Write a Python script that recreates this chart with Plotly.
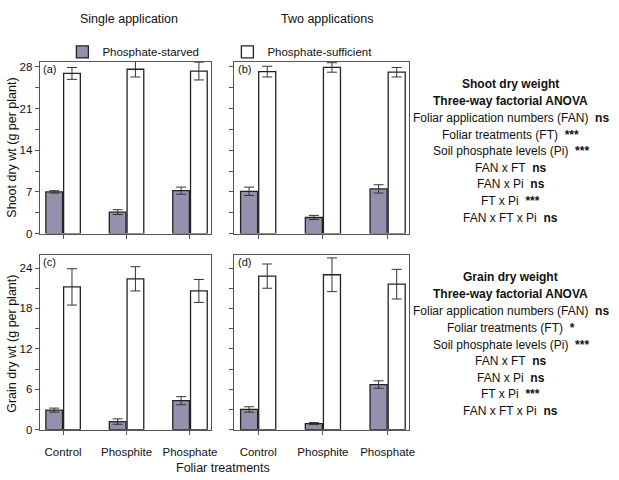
import plotly.graph_objects as go

categories = ["Control", "Phosphite", "Phosphate"]

shoot_single_starved = [7.0, 3.6, 7.2]
shoot_single_starved_err = [0.2, 0.4, 0.6]
shoot_single_suff = [26.9, 27.6, 27.3]
shoot_single_suff_err = [1.0, 1.3, 1.5]

shoot_two_starved = [7.1, 2.7, 7.5]
shoot_two_starved_err = [0.7, 0.35, 0.7]
shoot_two_suff = [27.2, 27.9, 27.1]
shoot_two_suff_err = [0.9, 0.8, 0.8]

grain_single_starved = [2.9, 1.2, 4.3]
grain_single_starved_err = [0.3, 0.4, 0.6]
grain_single_suff = [21.2, 22.4, 20.6]
grain_single_suff_err = [2.7, 1.8, 1.7]

grain_two_starved = [3.0, 0.9, 6.7]
grain_two_starved_err = [0.4, 0.15, 0.55]
grain_two_suff = [22.8, 23.0, 21.6]
grain_two_suff_err = [1.8, 2.5, 2.2]

shoot_ticks = [0, 3.5, 7, 10.5, 14, 17.5, 21, 24.5, 28]
shoot_labels = ["0", "", "7", "", "14", "", "21", "", "28"]
grain_ticks = [0, 3, 6, 9, 12, 15, 18, 21, 24]
grain_labels = ["0", "", "6", "", "12", "", "18", "", "24"]

shoot_stats = [("Foliar application numbers (FAN)", "ns"),
               ("Foliar treatments (FT)", "***"),
               ("Soil phosphate levels (Pi)", "***"),
               ("FAN x FT", "ns"), ("FAN x Pi", "ns"),
               ("FT x Pi", "***"), ("FAN x FT x Pi", "ns")]
grain_stats = [("Foliar application numbers (FAN)", "ns"),
               ("Foliar treatments (FT)", "*"),
               ("Soil phosphate levels (Pi)", "***"),
               ("FAN x FT", "ns"), ("FAN x Pi", "ns"),
               ("FT x Pi", "***"), ("FAN x FT x Pi", "ns")]

FONT = "Liberation Sans, Arial, sans-serif"
STARVED = "#9391ad"
EDGE = "#222222"
FRAME = "#555555"
W, H = 619, 480

fig = go.Figure()

panels = [
    ("x", "y", shoot_single_starved, shoot_single_starved_err, shoot_single_suff, shoot_single_suff_err, True),
    ("x2", "y2", shoot_two_starved, shoot_two_starved_err, shoot_two_suff, shoot_two_suff_err, False),
    ("x3", "y3", grain_single_starved, grain_single_starved_err, grain_single_suff, grain_single_suff_err, False),
    ("x4", "y4", grain_two_starved, grain_two_starved_err, grain_two_suff, grain_two_suff_err, False),
]
for xa, ya, st, ste, su, sue, legend in panels:
    fig.add_trace(go.Bar(x=categories, y=st, name="Phosphate-starved", xaxis=xa, yaxis=ya,
                         marker=dict(color=STARVED, line=dict(color=EDGE, width=1.3)),
                         error_y=dict(type="data", array=ste, color="#333333", thickness=1, width=5),
                         showlegend=legend, offsetgroup="a"))
    fig.add_trace(go.Bar(x=categories, y=su, name="Phosphate-sufficient", xaxis=xa, yaxis=ya,
                         marker=dict(color="white", line=dict(color=EDGE, width=1.3)),
                         error_y=dict(type="data", array=sue, color="#333333", thickness=1, width=5),
                         showlegend=legend, offsetgroup="b"))

def px_x(p):
    return p / W

def px_y(p):
    return 1 - p / H

xcommon = dict(type="category", range=[-0.37, 2.33], showline=True, linecolor=FRAME, linewidth=1,
               mirror=True, ticks="outside", ticklen=4, tickcolor=FRAME,
               tickfont=dict(family=FONT, size=11.5, color="#111"), showgrid=False, zeroline=False,
               ticklabelstandoff=8)
ycommon = dict(showline=True, linecolor=FRAME, linewidth=1, mirror=True, ticks="outside",
               ticklen=4, tickcolor=FRAME, tickfont=dict(family=FONT, size=11.5, color="#111"),
               showgrid=False, zeroline=False, tickmode="array")

dom_left = [px_x(40), px_x(213)]
dom_right = [px_x(236.5), px_x(413)]
dom_top = [px_y(236), px_y(62)]
dom_bot = [px_y(435), px_y(258)]

fig.update_layout(
    xaxis=dict(xcommon, domain=dom_left, anchor="y", showticklabels=False),
    xaxis2=dict(xcommon, domain=dom_right, anchor="y2", showticklabels=False),
    xaxis3=dict(xcommon, domain=dom_left, anchor="y3"),
    xaxis4=dict(xcommon, domain=dom_right, anchor="y4"),
    yaxis=dict(ycommon, domain=dom_top, anchor="x", range=[0, 28.8], tickvals=shoot_ticks, ticktext=shoot_labels),
    yaxis2=dict(ycommon, domain=dom_top, anchor="x2", range=[0, 28.8], tickvals=shoot_ticks,
                ticktext=[""] * len(shoot_ticks)),
    yaxis3=dict(ycommon, domain=dom_bot, anchor="x3", range=[0, 25.9], tickvals=grain_ticks, ticktext=grain_labels),
    yaxis4=dict(ycommon, domain=dom_bot, anchor="x4", range=[0, 25.9], tickvals=grain_ticks,
                ticktext=[""] * len(grain_ticks)),
    barmode="group", bargap=0.44, bargroupgap=0.06,
    width=W, height=H, margin=dict(l=0, r=0, t=0, b=0),
    plot_bgcolor="white", paper_bgcolor="white",
    font=dict(family=FONT, size=11.5, color="#111"),
    legend=dict(orientation="h", x=px_x(63), y=px_y(37), xanchor="left", yanchor="top",
                font=dict(family=FONT, size=11.5), entrywidth=120, bgcolor="rgba(0,0,0,0)",
                itemclick=False),
)

ann = []
def add(text, x, y, size=11.5, xanchor="center", yanchor="middle", **kw):
    ann.append(dict(text=text, x=px_x(x), y=px_y(y), xref="paper", yref="paper",
                    xanchor=xanchor, yanchor=yanchor,
                    showarrow=False, font=dict(family=FONT, size=size, color="#111"), **kw))

add("Single application", 130, 18, size=12.5)
add("Two applications", 330, 18, size=12.5)
add("Foliar treatments", 225, 465, size=12.5, yanchor="top")
add("Shoot dry wt (g per plant)", 12, 149, size=12.5, textangle=-90)
add("Grain dry wt (g per plant)", 12, 348, size=12.5, textangle=-90)
add("(a)", 41, 69, size=11, xanchor="left")
add("(b)", 238, 69, size=11, xanchor="left")
add("(c)", 41, 265, size=11, xanchor="left")
add("(d)", 238, 265, size=11, xanchor="left")

def stats_block(title, stats, y0):
    add("<b>" + title + "</b>", 516, y0, size=12)
    add("<b>Three-way factorial ANOVA</b>", 516, y0 + 17.5, size=12)
    for i, (lab, sig) in enumerate(stats):
        add(lab + "  <b>" + sig + "</b>", 516, y0 + 35 + 16.8 * i, size=12)

stats_block("Shoot dry weight", shoot_stats, 84)
stats_block("Grain dry weight", grain_stats, 280)

fig.update_layout(annotations=ann)
fig.write_html("out.html")
